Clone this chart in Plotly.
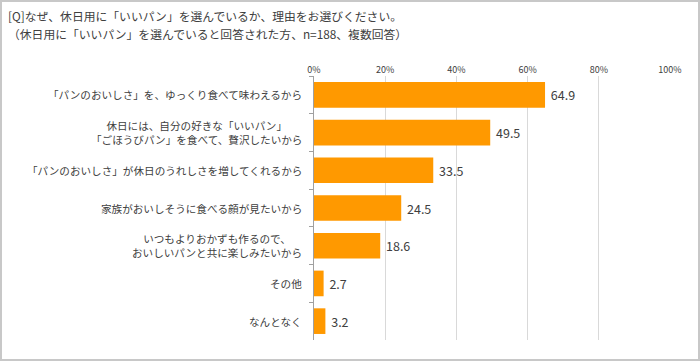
import plotly.graph_objects as go

categories = [
    "「パンのおいしさ」を、ゆっくり食べて味わえるから",
    "休日には、自分の好きな「いいパン」<br>「ごほうびパン」を食べて、贅沢したいから",
    "「パンのおいしさ」が休日のうれしさを増してくれるから",
    "家族がおいしそうに食べる顔が見たいから",
    "いつもよりおかずも作るので、<br>おいしいパンと共に楽しみたいから",
    "その他",
    "なんとなく",
]
values = [64.9, 49.5, 33.5, 24.5, 18.6, 2.7, 3.2]
tick_vals = [0, 20, 40, 60, 80, 100]
tick_text = ["0%", "20%", "40%", "60%", "80%", "100%"]
title_lines = [
    "[Q]なぜ、休日用に「いいパン」を選んでいるか、理由をお選びください。",
    "（休日用に「いいパン」を選んでいると回答された方、n=188、複数回答）",
]

W, H = 700, 361
L, R, T, B = 314, 30, 76, 21
PW, PH = W - L - R, H - T - B

def px(x):
    return (x - L) / PW

def py(y):
    return 1 - (y - T) / PH

FONT = "Noto Sans CJK JP, sans-serif"

fig = go.Figure(go.Bar(
    x=values, y=categories, orientation="h",
    marker=dict(color="#FF9900", line=dict(width=0)),
    width=0.68,
    text=["\u00a0" + f"{v:.1f}" for v in values], textposition="outside",
    textfont=dict(family=FONT, size=12.5, color="#404040"),
    cliponaxis=False,
))

annotations = []
for c in categories:
    annotations.append(dict(
        x=0, y=c, xref="x", yref="y", text=c, showarrow=False,
        xanchor="right", yanchor="middle", align="center", xshift=-10,
        font=dict(family=FONT, size=10.6, color="#404040"),
    ))
for i, t in enumerate(title_lines):
    annotations.append(dict(
        x=px(6), y=py(15 + i * 18), xref="paper", yref="paper", text=t,
        showarrow=False, xanchor="left", yanchor="middle",
        font=dict(family=FONT, size=11.8, color="#404040"),
    ))

fig.update_layout(
    width=W, height=H,
    margin=dict(l=L, r=R, t=T, b=B),
    paper_bgcolor="white", plot_bgcolor="white",
    showlegend=False,
    annotations=annotations,
    shapes=[dict(type="rect", xref="paper", yref="paper",
                 x0=px(1), x1=px(W - 1), y0=py(H - 1), y1=py(1),
                 line=dict(color="#C8C8C8", width=2))],
    xaxis=dict(range=[0, 100], side="top", tickvals=tick_vals, ticktext=tick_text,
               showgrid=True, gridcolor="#D9D9D9", gridwidth=1, zeroline=False,
               showline=False, ticks="", ticklabelstandoff=0,
               tickfont=dict(family=FONT, size=9, color="#404040")),
    yaxis=dict(autorange="reversed", showticklabels=False, showgrid=False,
               showline=True, linecolor="#A0A0A0", linewidth=1,
               ticks="outside", tickson="boundaries", ticklen=4, tickcolor="#A0A0A0"),
    bargap=0.32,
)

fig.write_html("out.html", config={"displayModeBar": False},
               post_script="document.body.style.margin='0';")
